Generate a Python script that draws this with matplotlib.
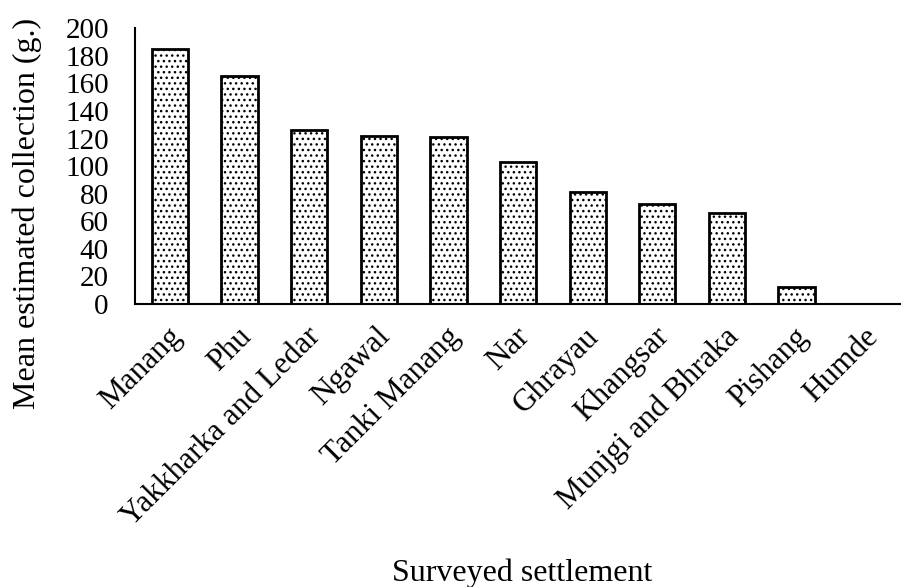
import matplotlib
matplotlib.use("Agg")
import matplotlib.pyplot as plt
import matplotlib.transforms as mtransforms
import numpy as np

settlements = ["Manang", "Phu", "Yakkharka and Ledar", "Ngawal", "Tanki Manang",
               "Nar", "Ghrayau", "Khangsar", "Munjgi and Bhraka", "Pishang", "Humde"]
collection = [185, 165, 126, 121.5, 121, 103, 81, 72.7, 66, 12.5, 0]
yticks = list(range(0, 201, 20))

plt.rcParams['font.family'] = ['Liberation Serif', 'DejaVu Serif']
plt.rcParams['hatch.linewidth'] = 1.0

fig = plt.figure(figsize=(9.01, 5.87), dpi=100)
ax = fig.add_axes([0.15, 0.482, 0.85, 0.47])
x = np.arange(len(settlements))
ax.bar(x, collection, width=0.52, facecolor='white', edgecolor='black',
       linewidth=2, hatch='...')
ax.set_xlim(-0.5, len(settlements) - 0.5)
ax.set_ylim(0, 200)
ax.set_yticks(yticks)
ax.tick_params(axis='y', length=0, labelsize=21, pad=19)
ax.tick_params(axis='x', length=0, labelsize=22.5, pad=13)
ax.set_xticks(x)
ax.set_xticklabels(settlements, rotation=45, ha='right', va='top', rotation_mode='anchor')
offset = mtransforms.ScaledTranslation(-3 / 100, 0, fig.dpi_scale_trans)
for lbl in ax.get_xticklabels():
    lbl.set_transform(lbl.get_transform() + offset)
for s in ['top', 'right']:
    ax.spines[s].set_visible(False)
for s in ['left', 'bottom']:
    ax.spines[s].set_linewidth(1.5)
ax.set_ylabel("Mean estimated collection (g.)", fontsize=23)
ax.yaxis.set_label_coords(-0.122, 0.33)
fig.text(0.58, 0.024, "Surveyed settlement", fontsize=23, ha='center', va='center')
fig.savefig("out.png", dpi=100)
